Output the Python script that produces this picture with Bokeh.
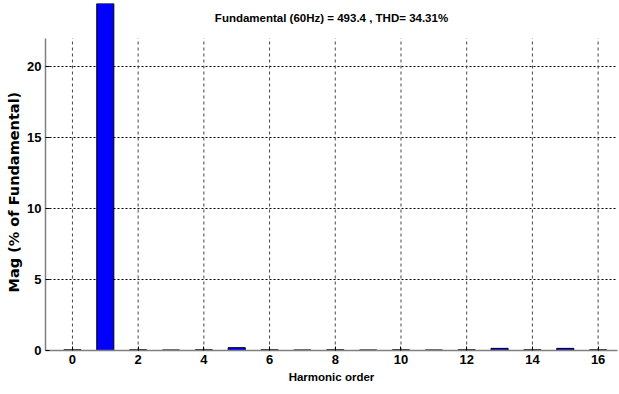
from bokeh.plotting import figure
from bokeh.models import FixedTicker, Range1d, Label
from bokeh.embed import file_html
from bokeh.resources import INLINE

# Data
harmonics = list(range(0, 17))
magnitudes = [0.05, 100.0, 0.05, 0.04, 0.05, 0.2, 0.05, 0.04, 0.05, 0.04, 0.05, 0.04, 0.05, 0.15, 0.05, 0.15, 0.05]
x_ticks = [0, 2, 4, 6, 8, 10, 12, 14, 16]
y_ticks = [0, 5, 10, 15, 20]
y_limit = 22
title_text = "Fundamental (60Hz) = 493.4 , THD= 34.31%"
x_label = "Harmonic order"
y_label = "Mag (% of Fundamental)"

FONT = "Liberation Sans"
YFONT = "DejaVu Sans"

p = figure(width=619, height=394, output_backend="svg", toolbar_location=None,
           x_range=Range1d(-0.82, 16.59), y_range=Range1d(0, 24.44),
           min_border_left=45, min_border_right=2, min_border_top=3, min_border_bottom=44)
p.outline_line_color = None
p.background_fill_color = "white"

# vertical dashed grid lines up to y limit
p.xgrid.visible = False
p.segment(x0=x_ticks, y0=[0]*len(x_ticks), x1=x_ticks, y1=[y_limit]*len(x_ticks),
          line_color="#444444", line_dash="3 3", line_width=1)

p.ygrid.ticker = FixedTicker(ticks=y_ticks)
p.ygrid.grid_line_color = "black"
p.ygrid.grid_line_dash = "2 2"
p.ygrid.grid_line_width = 1

p.vbar(x=harmonics, top=magnitudes, width=0.52, bottom=0,
       fill_color="#0000ff", line_color="black", line_width=1)

for ax in (p.xaxis[0], p.yaxis[0]):
    ax.axis_line_color = "#808080"
    ax.axis_line_width = 1.5
    ax.major_tick_in = 4
    ax.major_tick_out = 0
    ax.minor_tick_line_color = None
    ax.major_tick_line_color = "black"
    ax.major_label_text_font = FONT
    ax.major_label_text_font_style = "bold"
    ax.major_label_text_font_size = "13px"
    ax.major_label_text_color = "black"
    ax.axis_label_text_font = FONT
    ax.axis_label_text_font_style = "bold"
    ax.axis_label_text_font_size = "11.5px"
    ax.axis_label_text_color = "black"

p.xaxis.ticker = FixedTicker(ticks=x_ticks)
p.yaxis.ticker = FixedTicker(ticks=y_ticks)
p.yaxis.bounds = (0, y_limit)
p.xaxis.axis_label = x_label
# trailing no-break spaces shift the rotated label down onto the 0..22 span
p.yaxis.axis_label = y_label + "\u00a0" * 6
p.yaxis.axis_label_text_font = YFONT
p.yaxis.axis_label_text_font_size = "14.5px"
p.xaxis.major_label_standoff = 4
p.yaxis.major_label_standoff = 4
p.xaxis.axis_label_standoff = 4
p.yaxis.axis_label_standoff = 2

p.add_layout(Label(x=(-0.82 + 16.59) / 2, y=23.45, text=title_text,
                   text_align="center", text_baseline="middle",
                   text_font=FONT, text_font_style="bold", text_font_size="11.5px",
                   text_color="black"))

open("out.html", "w").write(file_html(p, INLINE))
